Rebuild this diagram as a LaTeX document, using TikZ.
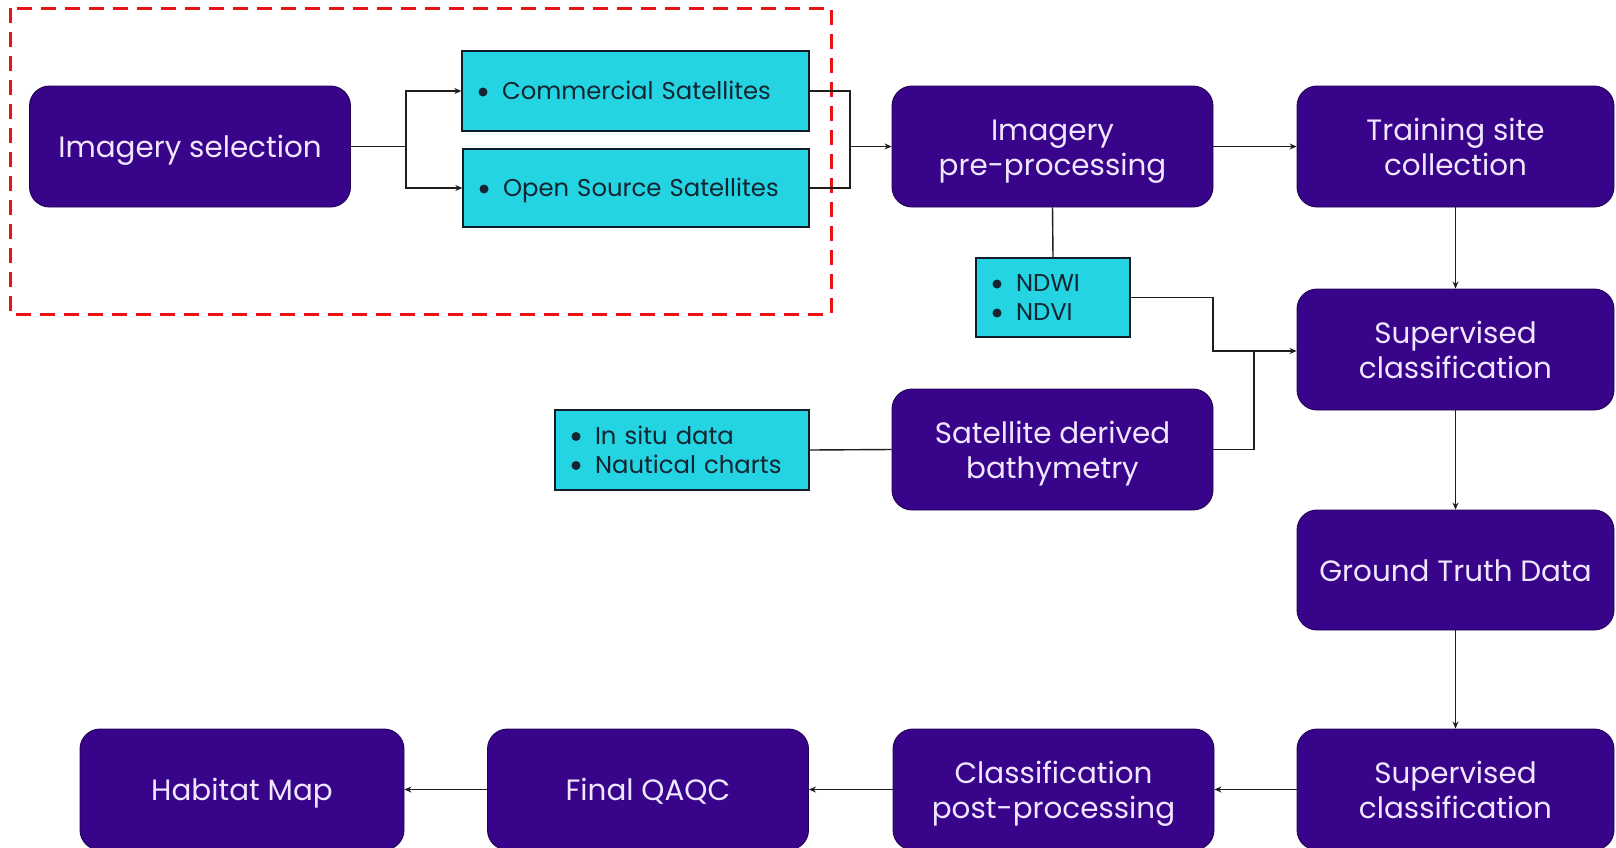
\documentclass[tikz,border=0pt]{standalone}
\usepackage{fontspec}
\setmainfont{Poppins}
\usetikzlibrary{arrows.meta,positioning}

\definecolor{procpurple}{RGB}{56,4,138}
\definecolor{proctext}{RGB}{240,230,255}
\definecolor{listcyan}{RGB}{36,212,226}
\definecolor{listtext}{RGB}{20,36,48}
\definecolor{linkgray}{RGB}{30,30,30}
\definecolor{groupred}{RGB}{235,20,20}

% one line of a process label, with a fixed height and no depth
\newcommand{\pl}[1]{\raisebox{0pt}[22pt][0pt]{#1}}
% one bulleted line of a list box
\newcommand{\itm}[1]{\raisebox{0pt}[17pt][0pt]{\makebox[23.5pt][l]{\tikz[baseline=0pt]\fill[listtext] (4.5pt,7.5pt) circle[radius=4.5pt];}#1}}

\tikzset{
  procbox/.style={draw=procpurple!60!black, line width=0.9pt, fill=procpurple,
    rounded corners=20pt, minimum width=321pt, minimum height=121pt,
    text=proctext, align=center, inner sep=0pt,
    font=\fontsize{29.4}{35}\selectfont},
  listbox/.style={draw=listtext!80!black, line width=1.3pt, fill=listcyan,
    text=listtext, align=left, inner xsep=16.5pt, inner ysep=0pt,
    font=\fontsize{24.3}{29}\selectfont},
  link/.style={draw=linkgray, line width=1.4pt},
  flow/.style={link, -{Stealth[length=7pt,width=6pt]}},
  groupframe/.style={draw=groupred, line width=3pt, dash pattern=on 15pt off 9pt}
}

\begin{document}
\begin{tikzpicture}[x=1pt,y=-1pt]
\clip (0,0) rectangle (1616,847);
\fill[white] (0,0) rectangle (1616,847);

% dashed frame around the imagery selection group
\draw[groupframe] (10,8) rectangle (831,314);

% process boxes
\node[procbox] (sel)   at (190,146.5)    {\pl{Imagery selection}};
\node[procbox] (pre)   at (1052.5,146.5) {\pl{Imagery}\\\pl{pre-processing}};
\node[procbox, minimum width=317pt] (train) at (1455.5,146.5) {\pl{Training site}\\\pl{collection}};
\node[procbox, minimum width=317pt] (supa)  at (1455.5,349.5) {\pl{Supervised}\\\pl{classification}};
\node[procbox] (bathy) at (1052.5,449.5) {\pl{Satellite derived}\\\pl{bathymetry}};
\node[procbox, minimum width=317pt, minimum height=120pt] (truth) at (1455.5,570) {\pl{Ground Truth Data}};
\node[procbox, minimum width=317pt] (supb)  at (1455.5,789.5) {\pl{Supervised}\\\pl{classification}};
\node[procbox] (post)  at (1053.5,789.5) {\pl{Classification}\\\pl{post-processing}};
\node[procbox] (qaqc)  at (648,789.5)    {\pl{Final QAQC}};
\node[procbox, minimum width=324pt] (map) at (242,789.5) {\pl{Habitat Map}};

% list boxes
\node[listbox, minimum height=80pt, text width=314pt] (com)  at (635.5,91) {\itm{Commercial Satellites}};
\node[listbox, minimum height=78pt, text width=313pt] (open) at (636,188) {\itm{Open Source Satellites}};
\node[listbox, minimum height=79pt, text width=121pt] (idx)  at (1053,297.5) {\itm{NDWI}\\\itm{NDVI}};
\node[listbox, minimum height=80pt, text width=221pt] (situ) at (682,450) {\itm{In situ data}\\\itm{Nautical charts}};

% junction points
\coordinate (split) at (406,146.5);
\coordinate (merge) at (850,146.5);
\coordinate (join)  at (1254,351);
\coordinate (bend)  at (1213,297.5);

% imagery selection branches
\draw[link] (sel.east) -- (split);
\draw[flow] (split) |- (com.west);
\draw[flow] (split) |- (open.west);
\draw[link] (com.east) -| (merge);
\draw[link] (open.east) -| (merge);
\draw[flow] (merge) -- (pre.west);

% main flow
\draw[flow] (pre.east) -- (train.west);
\draw[link] (pre.south) -- (idx.north);
\draw[link] (idx.east) -- (bend) |- (join);
\draw[flow] (join) -- (supa.west |- join);
\draw[link] (bathy.east) -| (join);
\draw[link] (situ.east) -- (bathy.west);

\draw[flow] (train.south) -- (supa.north);
\draw[flow] (supa.south) -- (truth.north);
\draw[flow] (truth.south) -- (supb.north);

\draw[flow] (supb.west) -- (post.east);
\draw[flow] (post.west) -- (qaqc.east);
\draw[flow] (qaqc.west) -- (map.east);
\end{tikzpicture}
\end{document}
